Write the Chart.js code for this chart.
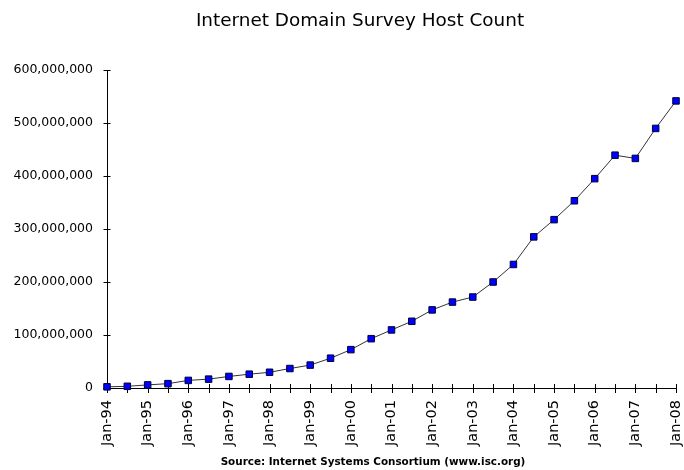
<!DOCTYPE html>
<html>
<head>
<meta charset="utf-8">
<script src="https://cdn.jsdelivr.net/npm/chart.js@4/dist/chart.umd.min.js"></script>
<style>
  html, body { margin: 0; padding: 0; background: #ffffff; }
  #wrap { width: 684px; height: 470px; position: relative; }
</style>
</head>
<body>
<div id="wrap"><canvas id="c"></canvas></div>
<script>
const chartTitle = 'Internet Domain Survey Host Count';
const sourceText = 'Source: Internet Systems Consortium (www.isc.org)';

const periods = [
  'Jan-94','Jul-94','Jan-95','Jul-95','Jan-96','Jul-96','Jan-97','Jul-97',
  'Jan-98','Jul-98','Jan-99','Jul-99','Jan-00','Jul-00','Jan-01','Jul-01',
  'Jan-02','Jul-02','Jan-03','Jul-03','Jan-04','Jul-04','Jan-05','Jul-05',
  'Jan-06','Jul-06','Jan-07','Jul-07','Jan-08'
];

const hostCount = [
  2217000, 3212000, 5846000, 8200000, 14352000, 16729000, 21819000, 26053000,
  29670000, 36739000, 43230000, 56218000, 72398000, 93047000, 109574000, 125888000,
  147345000, 162128000, 171638000, 200000000, 233101000, 285139000, 317646000, 353284000,
  394992000, 439286000, 433193000, 489774000, 541677000
];

const yTickValues = [0, 100000000, 200000000, 300000000, 400000000, 500000000, 600000000];

const crossTicks = {
  id: 'crossTicks',
  beforeDatasetsDraw(chart) {
    const ctx = chart.ctx;
    const xs = chart.scales.x, ys = chart.scales.y;
    ctx.save();
    ctx.strokeStyle = '#000000';
    ctx.lineWidth = 1;
    ctx.beginPath();
    yTickValues.forEach(v => {
      const py = Math.round(ys.getPixelForValue(v)) + 0.5;
      ctx.moveTo(xs.left - 3.5, py);
      ctx.lineTo(xs.left + 3.5, py);
    });
    periods.forEach((p, i) => {
      const px = Math.round(xs.getPixelForTick(i)) + 0.5;
      ctx.moveTo(px, ys.bottom - 4);
      ctx.lineTo(px, ys.bottom + 5);
    });
    ctx.stroke();
    ctx.restore();
  }
};

const captions = {
  id: 'captions',
  afterDraw(chart) {
    const ctx = chart.ctx;
    ctx.save();
    ctx.fillStyle = '#000000';
    ctx.textAlign = 'center';
    ctx.textBaseline = 'alphabetic';
    ctx.font = 'normal 18.4px "DejaVu Sans"';
    ctx.fillText(chartTitle, 360, 26);
    ctx.font = 'bold 10.4px "DejaVu Sans"';
    ctx.fillText(sourceText, 373, 464.5);
    ctx.restore();
  }
};

new Chart(document.getElementById('c'), {
  type: 'line',
  data: {
    labels: periods,
    datasets: [{
      label: 'Hosts',
      data: hostCount,
      borderColor: '#333333',
      borderWidth: 1,
      backgroundColor: '#0000ff',
      pointBackgroundColor: '#0000ff',
      pointBorderColor: '#000033',
      pointBorderWidth: 1,
      pointStyle: 'rect',
      pointRadius: 4.6,
      pointHoverRadius: 4.6,
      tension: 0,
      fill: false,
      clip: false
    }]
  },
  options: {
    responsive: true,
    maintainAspectRatio: false,
    animation: false,
    devicePixelRatio: 1,
    layout: { padding: { left: 0, right: 8, top: 70, bottom: 16.6 } },
    plugins: {
      legend: { display: false },
      tooltip: { enabled: false },
      title: { display: false },
      subtitle: { display: false }
    },
    scales: {
      x: {
        type: 'category',
        offset: false,
        grid: { display: false, drawTicks: false },
        border: { display: true, color: '#000000', width: 1 },
        ticks: {
          autoSkip: false,
          minRotation: 90,
          maxRotation: 90,
          padding: 12,
          color: '#000000',
          font: { family: 'DejaVu Sans', size: 14.5 },
          callback: function(value, index) {
            const l = periods[index];
            return l.startsWith('Jan') ? l : '';
          }
        },
        afterFit(scale) {
          scale.height = 65.4;
          scale.paddingLeft = 0;
          scale.paddingRight = 0;
        }
      },
      y: {
        min: 0,
        max: 600000000,
        grid: { display: false, drawTicks: false },
        border: { display: true, color: '#000000', width: 1 },
        ticks: {
          stepSize: 100000000,
          padding: 14,
          color: '#000000',
          font: { family: 'DejaVu Sans', size: 12.5 },
          callback: v => Number(v).toLocaleString('en-US')
        },
        afterFit(scale) {
          scale.width = 107;
          scale.paddingTop = 0;
          scale.paddingBottom = 0;
        }
      }
    }
  },
  plugins: [crossTicks, captions]
});
</script>
</body>
</html>
